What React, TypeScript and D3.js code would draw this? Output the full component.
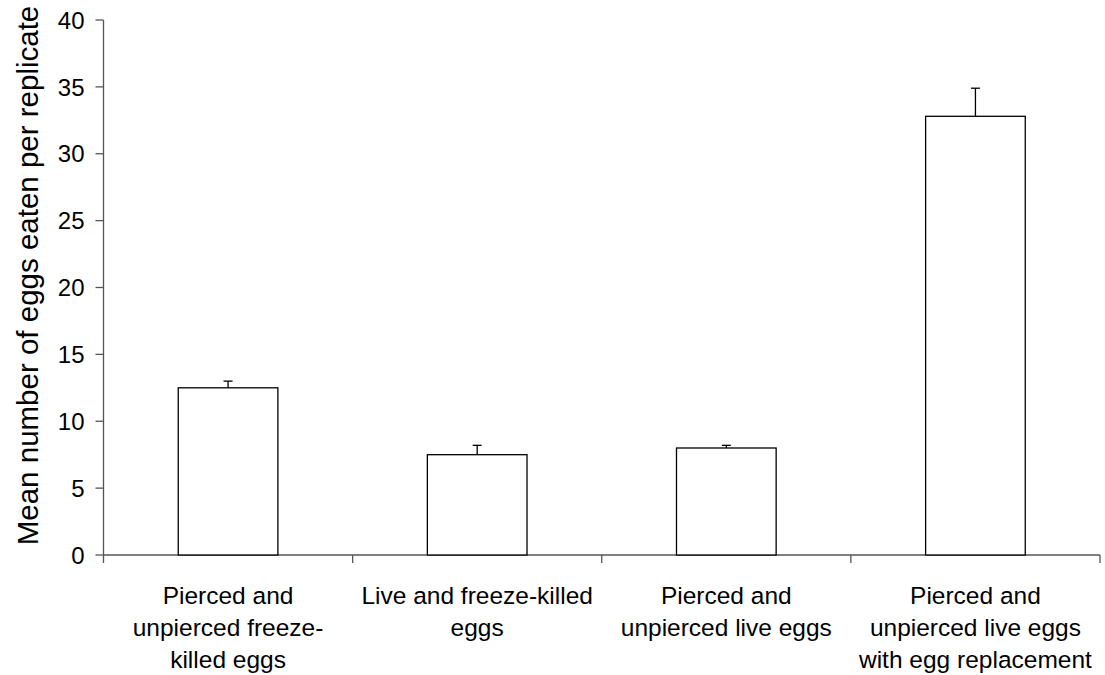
import { useEffect, useRef } from "react"
import * as d3 from "d3"

const categories = [
  ["Pierced and", "unpierced freeze-", "killed eggs"],
  ["Live and freeze-killed", "eggs"],
  ["Pierced and", "unpierced live eggs"],
  ["Pierced and", "unpierced live eggs", "with egg replacement"]
]
const means = [12.5, 7.5, 8.0, 32.8]
const errors = [0.5, 0.7, 0.2, 2.1]
const yTicks = [0, 5, 10, 15, 20, 25, 30, 35, 40]

const App = () => {
  const svgRef = useRef<SVGSVGElement | null>(null)

  useEffect(() => {
    const width = 1105
    const height = 675
    const margin = { top: 20, right: 5, bottom: 120, left: 103.5 }
    const font = "'Liberation Sans', Arial, sans-serif"

    const svg = d3.select(svgRef.current)
      .attr("width", width)
      .attr("height", height)
    svg.selectAll("*").remove()

    const idx = means.map((_, i) => i)
    const x = d3.scaleBand<number>()
      .domain(idx)
      .range([margin.left, width - margin.right])
      .paddingInner(0.6)
      .paddingOuter(0.3)
    const step = x.step()
    const y = d3.scaleLinear()
      .domain([0, 40])
      .range([height - margin.bottom, margin.top])

    const axisColor = "#555"

    // y axis
    svg.append("line")
      .attr("x1", margin.left).attr("x2", margin.left)
      .attr("y1", y(40)).attr("y2", y(0) + 8)
      .attr("stroke", axisColor).attr("stroke-width", 1.3)
    svg.append("g").selectAll("line")
      .data(yTicks).enter().append("line")
      .attr("x1", margin.left - 8).attr("x2", margin.left)
      .attr("y1", d => y(d)).attr("y2", d => y(d))
      .attr("stroke", axisColor).attr("stroke-width", 1.3)
    svg.append("g").selectAll("text")
      .data(yTicks).enter().append("text")
      .attr("x", margin.left - 19)
      .attr("y", d => y(d))
      .attr("dy", "0.36em")
      .attr("text-anchor", "end")
      .attr("font-family", font)
      .attr("font-size", 24)
      .attr("fill", "#000")
      .text(d => d)

    // x axis
    const x0 = margin.left
    const x1 = x0 + step * means.length
    svg.append("line")
      .attr("x1", x0).attr("x2", x1)
      .attr("y1", y(0)).attr("y2", y(0))
      .attr("stroke", axisColor).attr("stroke-width", 1.3)
    svg.append("g").selectAll("line")
      .data(d3.range(1, means.length + 1)).enter().append("line")
      .attr("x1", d => x0 + step * d).attr("x2", d => x0 + step * d)
      .attr("y1", y(0)).attr("y2", y(0) + 8)
      .attr("stroke", axisColor).attr("stroke-width", 1.3)

    // bars
    svg.append("g").selectAll("rect")
      .data(idx).enter().append("rect")
      .attr("x", i => x(i)!)
      .attr("width", x.bandwidth())
      .attr("y", i => y(means[i]))
      .attr("height", i => y(0) - y(means[i]))
      .attr("fill", "#fff")
      .attr("stroke", "#000")
      .attr("stroke-width", 1.3)

    // error bars (upper only)
    const eb = svg.append("g")
    idx.forEach(i => {
      const cx = x(i)! + x.bandwidth() / 2
      eb.append("line")
        .attr("x1", cx).attr("x2", cx)
        .attr("y1", y(means[i])).attr("y2", y(means[i] + errors[i]))
        .attr("stroke", "#000").attr("stroke-width", 1.3)
      eb.append("line")
        .attr("x1", cx - 4.5).attr("x2", cx + 4.5)
        .attr("y1", y(means[i] + errors[i])).attr("y2", y(means[i] + errors[i]))
        .attr("stroke", "#000").attr("stroke-width", 1.3)
    })

    // category labels
    const labels = svg.append("g")
    categories.forEach((lines, i) => {
      const cx = x0 + step * (i + 0.5)
      lines.forEach((t, j) => {
        labels.append("text")
          .attr("x", cx)
          .attr("y", 604 + j * 32)
          .attr("text-anchor", "middle")
          .attr("font-family", font)
          .attr("font-size", 24.5)
          .attr("fill", "#000")
          .text(t)
      })
    })

    // y label
    svg.append("text")
      .attr("transform", `translate(38,${(y(0) + y(40)) / 2 - 12}) rotate(-90)`)
      .attr("text-anchor", "middle")
      .attr("font-family", font)
      .attr("font-size", 29.5)
      .attr("fill", "#000")
      .text("Mean number of eggs eaten per replicate")
  }, [])

  return (
    <svg ref={svgRef} style={{ position: "absolute", left: 0, top: 0 }}></svg>
  )
}

export default App
